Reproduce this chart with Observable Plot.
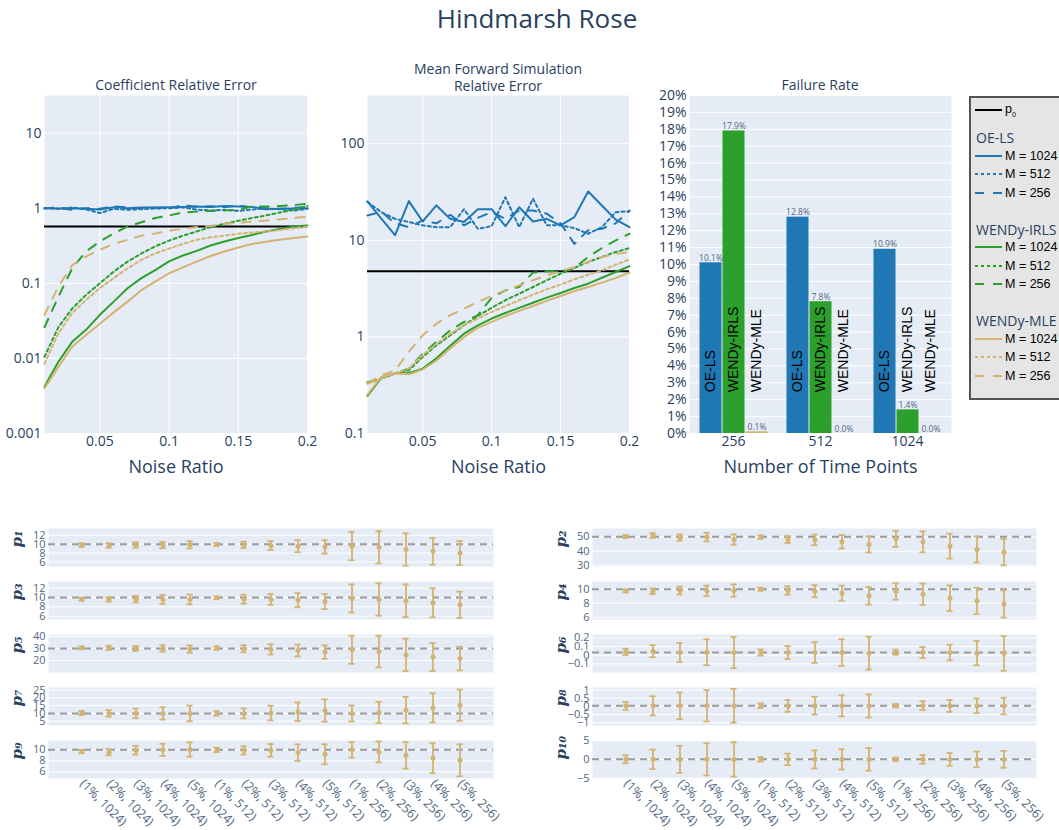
<!DOCTYPE html>
<html><head><meta charset="utf-8">
<script src="https://cdn.jsdelivr.net/npm/d3@7"></script>
<script src="https://cdn.jsdelivr.net/npm/@observablehq/plot@0.6"></script>
<style>
html,body{margin:0;padding:0;background:#fff;overflow:hidden;}
#root{position:relative;width:1059px;height:830px;overflow:hidden;font-family:"Open Sans",sans-serif;color:#2a3f5f;}
.ttl{position:absolute;transform:translate(-50%,-50%);white-space:nowrap;text-align:center;line-height:1.2;}
#legend{position:absolute;left:969px;top:96px;width:110px;height:304px;background:#e5e5e5;border:2px solid #555;box-sizing:border-box;}
.lrow{position:absolute;left:0;height:18px;display:flex;align-items:center;white-space:nowrap;transform:translateY(-50%);}
.lgt{position:absolute;left:5px;transform:translateY(-50%);font-family:"Open Sans",sans-serif;font-size:14px;color:#2a3f5f;white-space:nowrap;}
.ltx{font-family:Arial,"Liberation Sans",sans-serif;font-size:12.5px;color:#000;}
</style></head>
<body><div id="root"></div>
<script>
// ---------------- DATA ----------------
const noise = [0.01,0.02,0.03,0.04,0.05,0.06,0.07,0.08,0.09,0.10,0.11,0.12,0.13,0.14,0.15,0.16,0.17,0.18,0.19,0.20];
const methods = ["OE-LS","WENDy-IRLS","WENDy-MLE"];
const sizes = [1024, 512, 256];

// Coefficient relative error
const coef_OE_1024   = [1.0,0.99,1.0,0.98,0.96,1.03,1.0,1.02,1.02,1.03,1.04,1.05,1.04,1.07,1.05,1.04,0.97,0.98,0.99,1.0];
const coef_OE_512    = [1.0,0.98,1.02,0.96,0.86,0.98,0.95,0.97,0.99,1.0,1.02,0.96,0.93,0.95,0.92,0.96,0.99,0.97,0.93,0.98];
const coef_OE_256    = [1.0,1.02,0.95,1.0,0.98,1.06,1.02,1.0,1.01,0.99,1.1,1.04,1.06,1.03,1.08,1.02,1.0,0.98,1.01,1.03];
const coef_IRLS_1024 = [0.0042,0.009,0.0166,0.024,0.038,0.057,0.086,0.117,0.15,0.196,0.234,0.27,0.318,0.36,0.40,0.44,0.49,0.53,0.57,0.59];
const coef_IRLS_512  = [0.0105,0.026,0.046,0.07,0.1,0.143,0.194,0.25,0.31,0.37,0.43,0.49,0.56,0.62,0.68,0.74,0.80,0.875,0.95,1.07];
const coef_IRLS_256  = [0.026,0.066,0.158,0.265,0.36,0.46,0.57,0.65,0.74,0.80,0.875,0.90,0.92,0.93,0.96,1.05,1.05,1.07,1.1,1.14];
const coef_MLE_1024  = [0.004,0.0077,0.0143,0.0205,0.029,0.041,0.057,0.081,0.105,0.136,0.163,0.194,0.231,0.265,0.30,0.334,0.356,0.38,0.40,0.42];
const coef_MLE_512   = [0.0085,0.0215,0.04,0.06,0.086,0.117,0.158,0.205,0.25,0.29,0.334,0.38,0.41,0.43,0.455,0.474,0.49,0.51,0.54,0.57];
const coef_MLE_256   = [0.038,0.09,0.175,0.227,0.28,0.334,0.38,0.43,0.46,0.50,0.53,0.56,0.58,0.62,0.64,0.66,0.685,0.71,0.74,0.77];
const coef_p0 = 0.57;

// Mean forward simulation relative error
const fwd_OE_1024   = [25.3,16.8,11.3,25.5,15.7,23,16.7,15.5,21,21,14,22,15.7,16.7,14.3,17.4,32,23,16.4,13.7];
const fwd_OE_512    = [25,19.6,16.7,15.5,14.3,13.7,13.7,21,13.2,14,28,13.7,27,14.3,14.3,13.4,11.7,13.7,19.6,20];
const fwd_OE_256    = [18.1,19.8,15,13.7,16.1,15,18.4,14.3,17.1,19.6,16.7,20.4,20.4,18.9,15,9.2,12.7,13.2,15,20.4];
const fwd_IRLS_1024 = [0.245,0.377,0.42,0.42,0.47,0.6,0.81,1.08,1.32,1.55,1.77,2.0,2.26,2.55,2.85,3.21,3.56,4.1,4.7,5.4];
const fwd_IRLS_512  = [0.33,0.37,0.42,0.45,0.62,0.82,1.04,1.32,1.65,2.0,2.4,2.8,3.29,3.86,4.52,5.17,5.97,6.73,7.57,8.33];
const fwd_IRLS_256  = [0.34,0.37,0.42,0.47,0.67,0.89,1.17,1.43,1.68,2.53,3.04,3.29,4.63,4.78,4.78,5.17,6.73,8.33,10,11.7];
const fwd_MLE_1024  = [0.253,0.385,0.42,0.41,0.46,0.57,0.76,1.0,1.24,1.43,1.64,1.86,2.09,2.36,2.65,2.97,3.29,3.65,4.08,4.63];
const fwd_MLE_512   = [0.33,0.37,0.42,0.47,0.65,0.85,1.08,1.32,1.55,1.81,2.09,2.4,2.74,3.11,3.48,3.95,4.41,4.89,5.6,6.35];
const fwd_MLE_256   = [0.33,0.4,0.45,0.7,1.04,1.37,1.68,1.96,2.3,2.65,3.04,3.42,3.86,4.34,4.78,5.3,5.97,6.73,7.2,7.6];
const fwd_p0 = 4.8;

// Failure rate
const timePoints = [256, 512, 1024];
const fail_OE   = [0.101, 0.128, 0.109];
const fail_IRLS = [0.179, 0.078, 0.014];
const fail_MLE  = [0.001, 0.000, 0.000];

// Tick values
const coefTicks = [0.001, 0.01, 0.1, 1, 10];
const fwdTicks = [0.1, 1, 10, 100];
const noiseTicks = [0.05, 0.1, 0.15, 0.2];
const failTicks = [0,0.01,0.02,0.03,0.04,0.05,0.06,0.07,0.08,0.09,0.10,0.11,0.12,0.13,0.14,0.15,0.16,0.17,0.18,0.19,0.20];

// Parameter estimates (mean ± spread) per (noise, M) case
const cases = ["(1%, 1024)","(2%, 1024)","(3%, 1024)","(4%, 1024)","(5%, 1024)",
               "(1%, 512)","(2%, 512)","(3%, 512)","(4%, 512)","(5%, 512)",
               "(1%, 256)","(2%, 256)","(3%, 256)","(4%, 256)","(5%, 256)"];
const p1Est = [9.8,9.7,9.8,9.8,9.85,9.9,9.85,9.7,9.55,9.4,9.55,9.3,8.8,8.4,8.0];
const p1Err = [0.4,0.5,0.6,0.7,0.8,0.3,0.7,1.0,1.35,1.5,3.15,3.6,3.6,3.0,2.7];
const p2Est = [50.2,50.9,49.5,49.8,48.1,49.8,48.1,47.9,46.5,44.7,48.6,46.5,43.5,41.2,39.3];
const p2Err = [1.0,1.6,2.2,3.0,3.6,1.2,2.4,3.7,4.7,5.6,5.6,7.3,8.7,9.1,9.1];
const p3Est = [9.64,9.57,9.64,9.57,9.57,9.93,9.64,9.57,9.43,9.14,9.79,9.57,9.29,8.86,8.43];
const p3Err = [0.3,0.45,0.7,0.95,1.05,0.3,0.95,1.15,1.5,1.6,3.0,3.45,3.5,3.1,2.8];
const p4Est = [9.76,9.71,9.81,9.76,9.81,10,9.81,9.71,9.43,9.05,9.67,9.29,8.71,8.33,7.9];
const p4Err = [0.2,0.4,0.57,0.74,0.88,0.21,0.6,0.86,1.07,1.24,1.17,1.52,1.83,1.88,1.95];
const p5Est = [30.5,30.5,30,30,29.4,30.3,29.7,29.2,28.3,27,28.9,27.5,24.7,23,21.7];
const p5Err = [1.1,1.8,2,2.6,3,1.4,2.9,4.2,4.9,5.5,11.5,12.9,13.3,11.4,9.7];
const p6Est = [0.039,0.047,0.031,0.035,0.031,0.031,0.031,0.031,0.031,0.024,0.035,0.031,0.031,0.024,0.02];
const p6Err = [0.037,0.07,0.11,0.15,0.18,0.035,0.075,0.12,0.155,0.19,0.03,0.063,0.09,0.14,0.2];
const p7Est = [10.2,10,10,10,10,10,10,10.2,11.1,11.9,10,10.6,12.1,13.6,15.3];
const p7Err = [1.3,2.1,3.1,4.0,5.0,1.5,3.2,4.7,6.0,7.2,5.1,6.8,8.5,9.4,10.1];
const p8Est = [0.02,0.03,0.03,0.04,0.04,0.04,0.03,0.04,0.03,0.02,0.04,0.04,0.03,0.03,0.02];
const p8Err = [0.24,0.59,0.82,0.97,1.04,0.14,0.37,0.55,0.65,0.71,0.1,0.27,0.37,0.45,0.51];
const p9Est = [9.7,9.57,9.94,10,10.06,10,9.9,9.9,9.5,9.2,10,9.63,9.0,8.5,8.1];
const p9Err = [0.3,0.55,0.8,1.1,1.3,0.4,0.75,1.15,1.5,1.8,1.4,1.9,2.4,2.7,2.9];
const p10Est = [0.05,0.02,0.0,0.01,0.0,0.02,0.01,0.01,0.0,0.0,0.01,0.01,0.0,0.0,0.0];
const p10Err = [1.07,2.6,3.6,4.3,4.6,0.6,1.55,2.4,2.7,3.0,0.45,1.15,1.7,2.1,2.25];
const trueVals = [10, 50, 10, 10, 30, 0.032, 10, 0.04, 10, 0.01];
const paramDomains = [[5,13.5],[29.3,55.8],[5.3,13.4],[5.67,11.1],[10.3,41.4],[-0.2,0.24],[2.2,26.7],[-1.18,1.16],[4.8,11.7],[-5.1,5.05]];
const paramTicks = [[6,8,10,12],[30,40,50],[6,8,10,12],[6,8,10],[20,30,40],[-0.1,0,0.1,0.2],[5,10,15,20,25],[-1,-0.5,0,0.5,1],[6,8,10],[-5,0,5]];
const paramLabels = ["p₁","p₂","p₃","p₄","p₅","p₆","p₇","p₈","p₉","p₁₀"];
const paramEst = [p1Est,p2Est,p3Est,p4Est,p5Est,p6Est,p7Est,p8Est,p9Est,p10Est];
const paramErr = [p1Err,p2Err,p3Err,p4Err,p5Err,p6Err,p7Err,p8Err,p9Err,p10Err];

// ---------------- STYLE ----------------
const COL = {"OE-LS":"#1f77b4","WENDy-IRLS":"#2ca02c","WENDy-MLE":"#d4b371"};
const DASH = {1024: null, 512: "3,3", 256: "9,9"};
const BG = "#e5ecf6", INK = "#2a3f5f";
const root = document.getElementById("root");
function put(el, left, top){ el.style.position="absolute"; el.style.left=left+"px"; el.style.top=top+"px"; root.appendChild(el); return el; }
function label(text, x, y, size, extra){ const d=document.createElement("div"); d.className="ttl"; d.innerHTML=text; d.style.left=x+"px"; d.style.top=y+"px"; d.style.fontSize=size+"px"; if(extra) Object.assign(d.style, extra); root.appendChild(d); }
const svgStyle = {fontFamily:"'Open Sans', sans-serif", color: INK, background:"transparent", overflow:"visible"};
const gfmt = d3.format("~g");

// ---------------- TITLES ----------------
label("Hindmarsh Rose", 537, 19, 26);
label("Coefficient Relative Error", 176, 85, 14);
label("Mean Forward Simulation<br>Relative Error", 498, 78, 14);
label("Failure Rate", 820, 85, 14);

// ---------------- LINE PANELS ----------------
const coefSeries = {"OE-LS":{1024:coef_OE_1024,512:coef_OE_512,256:coef_OE_256},
                    "WENDy-IRLS":{1024:coef_IRLS_1024,512:coef_IRLS_512,256:coef_IRLS_256},
                    "WENDy-MLE":{1024:coef_MLE_1024,512:coef_MLE_512,256:coef_MLE_256}};
const fwdSeries = {"OE-LS":{1024:fwd_OE_1024,512:fwd_OE_512,256:fwd_OE_256},
                   "WENDy-IRLS":{1024:fwd_IRLS_1024,512:fwd_IRLS_512,256:fwd_IRLS_256},
                   "WENDy-MLE":{1024:fwd_MLE_1024,512:fwd_MLE_512,256:fwd_MLE_256}};

function linePanel(series, p0, yDomain, yTicks, left, mL, mR){
  const lines = [];
  for (const m of methods) for (const M of sizes) {
    const rows = noise.map((x,i)=>({x, y: series[m][M][i]}));
    lines.push(Plot.line(rows, {x:"x", y:"y", stroke: COL[m], strokeWidth: 2, strokeDasharray: DASH[M]}));
  }
  const svg = Plot.plot({
    width: 320, height: 420, marginTop: 35, marginBottom: 47, marginLeft: mL, marginRight: mR,
    style: svgStyle,
    x: {domain: [0.01, 0.2], axis: null},
    y: {type: "log", domain: yDomain, axis: null},
    marks: [
      Plot.frame({fill: BG, stroke: null}),
      Plot.gridX(noiseTicks, {stroke: "white", strokeOpacity: 1, strokeWidth: 1}),
      Plot.gridY(yTicks, {stroke: "white", strokeOpacity: 1, strokeWidth: 1}),
      Plot.ruleY([p0], {stroke: "black", strokeWidth: 2}),
      ...lines,
      Plot.axisX(noiseTicks, {tickSize: 0, tickPadding: 3, fontSize: 14, fill: INK, tickFormat: gfmt, label: null}),
      Plot.axisY(yTicks, {tickSize: 0, tickPadding: 3, fontSize: 14, fill: INK, tickFormat: gfmt, label: null}),
      Plot.text(["Noise Ratio"], {frameAnchor: "bottom", dy: 34, fontSize: 18, fill: INK, lineAnchor: "middle"})
    ]
  });
  put(svg, left, 60);
}
linePanel(coefSeries, coef_p0, [0.001, Math.pow(10,1.5)], coefTicks, 0, 44, 13);
linePanel(fwdSeries, fwd_p0, [0.1, Math.pow(10,2.5)], fwdTicks, 325, 42, 16);

// ---------------- FAILURE RATE ----------------
const failData = [];
timePoints.forEach((M,i)=>{
  failData.push({M, method:"OE-LS", rate: fail_OE[i]});
  failData.push({M, method:"WENDy-IRLS", rate: fail_IRLS[i]});
  failData.push({M, method:"WENDy-MLE", rate: fail_MLE[i]});
});
const pct1 = d3.format(".1%");
const failBg = Plot.plot({
  width: 320, height: 420, marginTop: 35, marginBottom: 47, marginLeft: 44, marginRight: 14,
  style: svgStyle,
  x: {domain: [0,1], axis: null},
  y: {domain: [0, 0.2], axis: null},
  marks: [
    Plot.frame({fill: BG, stroke: null}),
    Plot.gridY(failTicks, {stroke: "white", strokeOpacity: 1, strokeWidth: 1}),
    Plot.axisY(failTicks, {tickSize: 0, tickPadding: 3, fontSize: 14, fill: INK, tickFormat: d3.format(".0%"), label: null}),
    Plot.text(["Number of Time Points"], {frameAnchor: "bottom", dy: 34, fontSize: 18, fill: INK, lineAnchor: "middle"})
  ]
});
put(failBg, 645, 60);
const failFg = Plot.plot({
  width: 320, height: 420, marginTop: 35, marginBottom: 47, marginLeft: 44, marginRight: 14,
  style: svgStyle,
  fx: {domain: timePoints, paddingInner: 0.2, paddingOuter: 0.1, label: null},
  x: {domain: methods, padding: 0, axis: null},
  y: {domain: [0, 0.2], axis: null},
  color: {domain: methods, range: methods.map(m=>COL[m])},
  marks: [
    Plot.barY(failData, {fx: "M", x: "method", y: "rate", fill: "method", insetLeft: 0.5, insetRight: 0.5}),
    Plot.text(failData, {fx: "M", x: "method", y: "rate", text: d => pct1(d.rate), lineAnchor: "bottom", dy: -2, fontSize: 8.5, fill: "#506784"}),
    Plot.text(failData, {fx: "M", x: "method", y: () => 0.0244, text: "method", rotate: -90, textAnchor: "start", fontSize: 14, fill: "black", fontFamily: "Arial, 'Liberation Sans', sans-serif"}),
    Plot.axisFx({anchor: "bottom", tickSize: 0, tickPadding: 3, fontSize: 14, fill: INK, tickFormat: d => String(d), label: null})
  ]
});
put(failFg, 645, 60);

// ---------------- LEGEND ----------------
const leg = document.createElement("div"); leg.id = "legend"; root.appendChild(leg);
function swatch(color, dash){
  return `<svg width="34" height="10" style="display:block"><line x1="4" y1="5" x2="31" y2="5" stroke="${color}" stroke-width="2" ${dash?`stroke-dasharray="${dash}"`:""}/></svg>`;
}
function legRow(top, html){ const r=document.createElement("div"); r.className="lrow"; r.style.top=top+"px"; r.innerHTML=html; leg.appendChild(r); }
legRow(12, swatch("black", null) + `<span class="ltx">p<sub style="font-size:7px">0</sub></span>`);
methods.forEach((m,g)=>{
  const t = document.createElement("div"); t.className="lgt"; t.textContent=m; t.style.top=(39+91.5*g)+"px"; leg.appendChild(t);
  sizes.forEach((M,i)=> legRow(39+91.5*g+18.5*(i+1), swatch(COL[m], DASH[M]) + `<span class="ltx">M = ${M}</span>`));
});

// ---------------- PARAMETER PANELS ----------------
const rowTops = [528, 581, 634, 687, 740];
paramLabels.forEach((name, k)=>{
  const col = k % 2, row = Math.floor(k/2), last = row === 4;
  const rows = cases.map((c,i)=>({c, est: paramEst[k][i], lo: paramEst[k][i]-paramErr[k][i], hi: paramEst[k][i]+paramErr[k][i]}));
  const tan = COL["WENDy-MLE"];
  const mL = col ? 52 : 48, mR = col ? 23 : 7;
  const svg = Plot.plot({
    width: col ? 519 : 500, height: 2 + 38 + (last ? 52 : 2),
    marginTop: 2, marginBottom: last ? 52 : 2, marginLeft: mL, marginRight: mR,
    style: svgStyle,
    x: {type: "band", domain: cases, paddingInner: 0, paddingOuter: 0.5, axis: null},
    y: {domain: paramDomains[k], axis: null},
    marks: [
      Plot.frame({fill: BG, stroke: null}),
      Plot.gridY(paramTicks[k], {stroke: "white", strokeOpacity: 1, strokeWidth: 1}),
      Plot.ruleY([trueVals[k]], {stroke: "#9b9b9b", strokeWidth: 2, strokeDasharray: "7,5"}),
      Plot.ruleX(rows, {x: "c", y1: "lo", y2: "hi", stroke: tan, strokeWidth: 1.8}),
      Plot.tickY(rows, {x: "c", y: "lo", stroke: tan, strokeWidth: 1.8, insetLeft: 10.4, insetRight: 10.4}),
      Plot.tickY(rows, {x: "c", y: "hi", stroke: tan, strokeWidth: 1.8, insetLeft: 10.4, insetRight: 10.4}),
      Plot.dot(rows, {x: "c", y: "est", r: 2.5, fill: tan, stroke: null}),
      Plot.axisY(paramTicks[k], {tickSize: 0, tickPadding: 3, fontSize: 11, fill: "#506784", tickFormat: gfmt, label: null}),
      Plot.text([name], {frameAnchor: "left", dx: -31, rotate: -90, fontSize: 15, fontWeight: "bold", fontStyle: "italic", fontFamily: "'DejaVu Serif', serif", fill: INK}),
      last ? Plot.axisX({tickRotate: 45, tickSize: 0, tickPadding: 3, fontSize: 12.5, fill: "#506784", label: null}) : null
    ]
  });
  put(svg, col ? 540 : 0, rowTops[row] - 2);
});
</script>
</body></html>
